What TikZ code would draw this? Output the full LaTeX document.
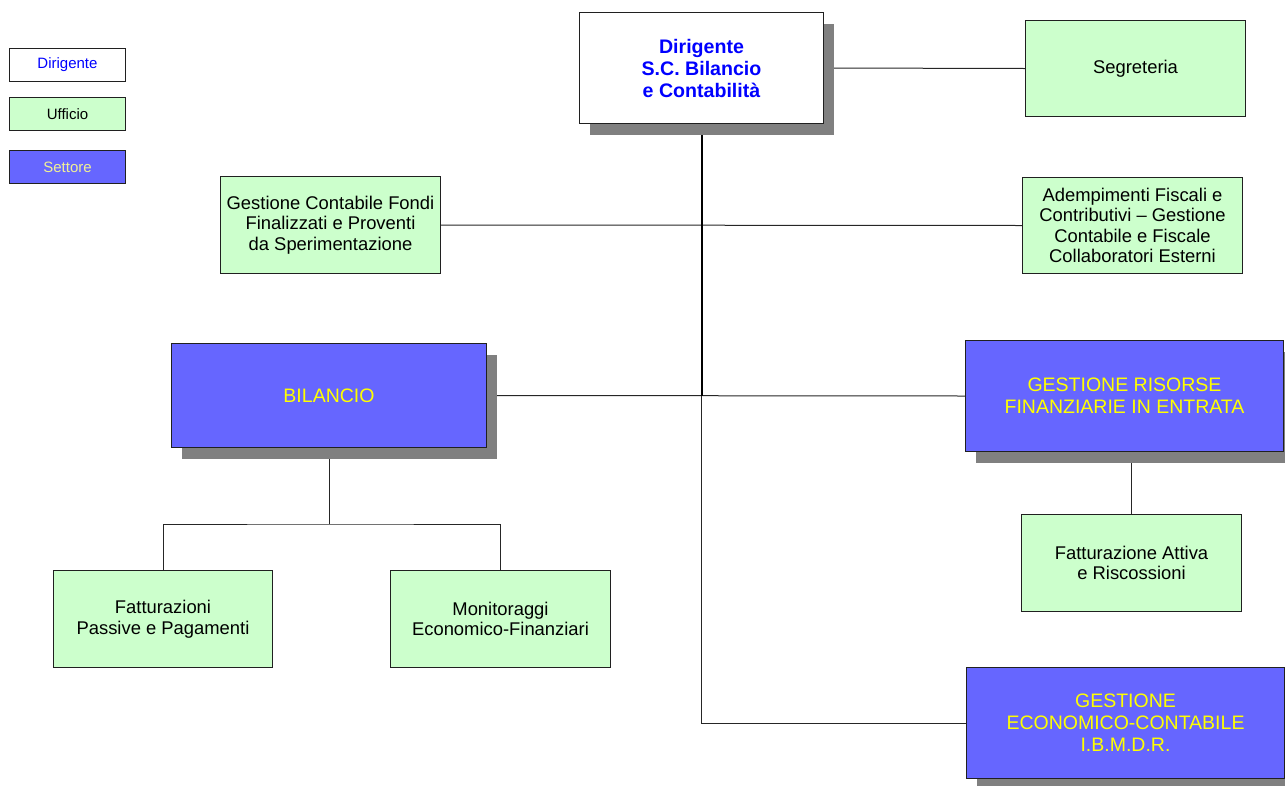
\documentclass[tikz,border=0pt]{standalone}
\usepackage{fontspec}
\setmainfont{Liberation Sans}
\usetikzlibrary{shadows}
\definecolor{uffgreen}{HTML}{CCFFCC}
\definecolor{setblue}{HTML}{6666FF}
\definecolor{setyellow}{HTML}{FFFF00}
\definecolor{dirblue}{HTML}{0000FF}
\definecolor{legyellow}{HTML}{F0F096}
\definecolor{boxline}{HTML}{202020}
\pgfdeclarelayer{background}
\pgfsetlayers{background,main}
\begin{document}
\begin{tikzpicture}[x=1pt,y=-1pt,
  box/.style={draw=boxline,line width=1pt,rectangle,anchor=north west,inner sep=2pt,align=center},
  shadowed/.style={drop shadow={shadow xshift=10pt,shadow yshift=-11pt,fill=gray,opacity=1}},
  dirbox/.style={box,fill=white,text=dirblue,font=\bfseries\fontsize{19.6}{22}\selectfont},
  uffbox/.style={box,fill=uffgreen,text=black,font=\fontsize{18.4}{20.5}\selectfont},
  setbox/.style={box,fill=setblue,text=setyellow,font=\fontsize{19.5}{22}\selectfont,shadowed},
  legbox/.style={box,minimum width=116pt,minimum height=33pt,font=\fontsize{15}{17}\selectfont},
  link/.style={line width=1pt,draw=black!85},
  trunk/.style={line width=2pt,draw=black}]
\useasboundingbox (0,0) rectangle (1285,785);

% legend
\node[legbox,fill=white,text=dirblue] (legdir) at (9,48) {Dirigente};
\node[legbox,fill=uffgreen,text=black] (leguff) at (9,97) {Ufficio};
\node[legbox,fill=setblue,text=legyellow] (legset) at (9,150) {Settore};

% head of the structure
\node[dirbox,shadowed,minimum width=244pt,minimum height=111pt] (top) at (579,12)
  {Dirigente\\S.C. Bilancio\\e Contabilità};

% offices
\node[uffbox,minimum width=220pt,minimum height=96pt] (segr) at (1025,20) {Segreteria};
\node[uffbox,minimum width=220pt,minimum height=97pt] (gcf) at (220,176)
  {Gestione Contabile Fondi\\Finalizzati e Proventi\\da Sperimentazione};
\node[uffbox,minimum width=220pt,minimum height=96pt] (adem) at (1022,177)
  {Adempimenti Fiscali e\\Contributivi – Gestione\\Contabile e Fiscale\\Collaboratori Esterni};
\node[uffbox,minimum width=220pt,minimum height=97pt] (fatt) at (1021,514)
  {Fatturazione Attiva\\e Riscossioni};
\node[uffbox,minimum width=219pt,minimum height=97pt] (pass) at (53,570)
  {Fatturazioni\\Passive e Pagamenti};
\node[uffbox,minimum width=220pt,minimum height=97pt] (mon) at (390,570)
  {Monitoraggi\\Economico-Finanziari};

% sectors
\node[setbox,minimum width=315pt,minimum height=104pt] (bil) at (171,343) {BILANCIO};
\node[setbox,minimum width=318pt,minimum height=111pt] (ris) at (965,340)
  {GESTIONE RISORSE\\FINANZIARIE IN ENTRATA};
\node[setbox,minimum width=318pt,minimum height=111pt] (eco) at (966,667)
  {GESTIONE\\ECONOMICO-CONTABILE\\I.B.M.D.R.};

\coordinate (split) at (329,524);

\begin{pgfonlayer}{background}
  \draw[link] (top.east) -- (segr.west);
  \draw[link] (gcf.east) -- (adem.west);
  \draw[link] (bil.east) -- (ris.west);
  \draw[link] (top.south) |- (eco.west);
  \draw[trunk] (top.south) -- (top.south |- bil.east);
  \draw[link] (bil.south) -- (split);
  \draw[link] (pass.north) |- (split) -| (mon.north);
  \draw[link] (fatt.north) -- (fatt.north |- ris.south);
\end{pgfonlayer}
\end{tikzpicture}
\end{document}
